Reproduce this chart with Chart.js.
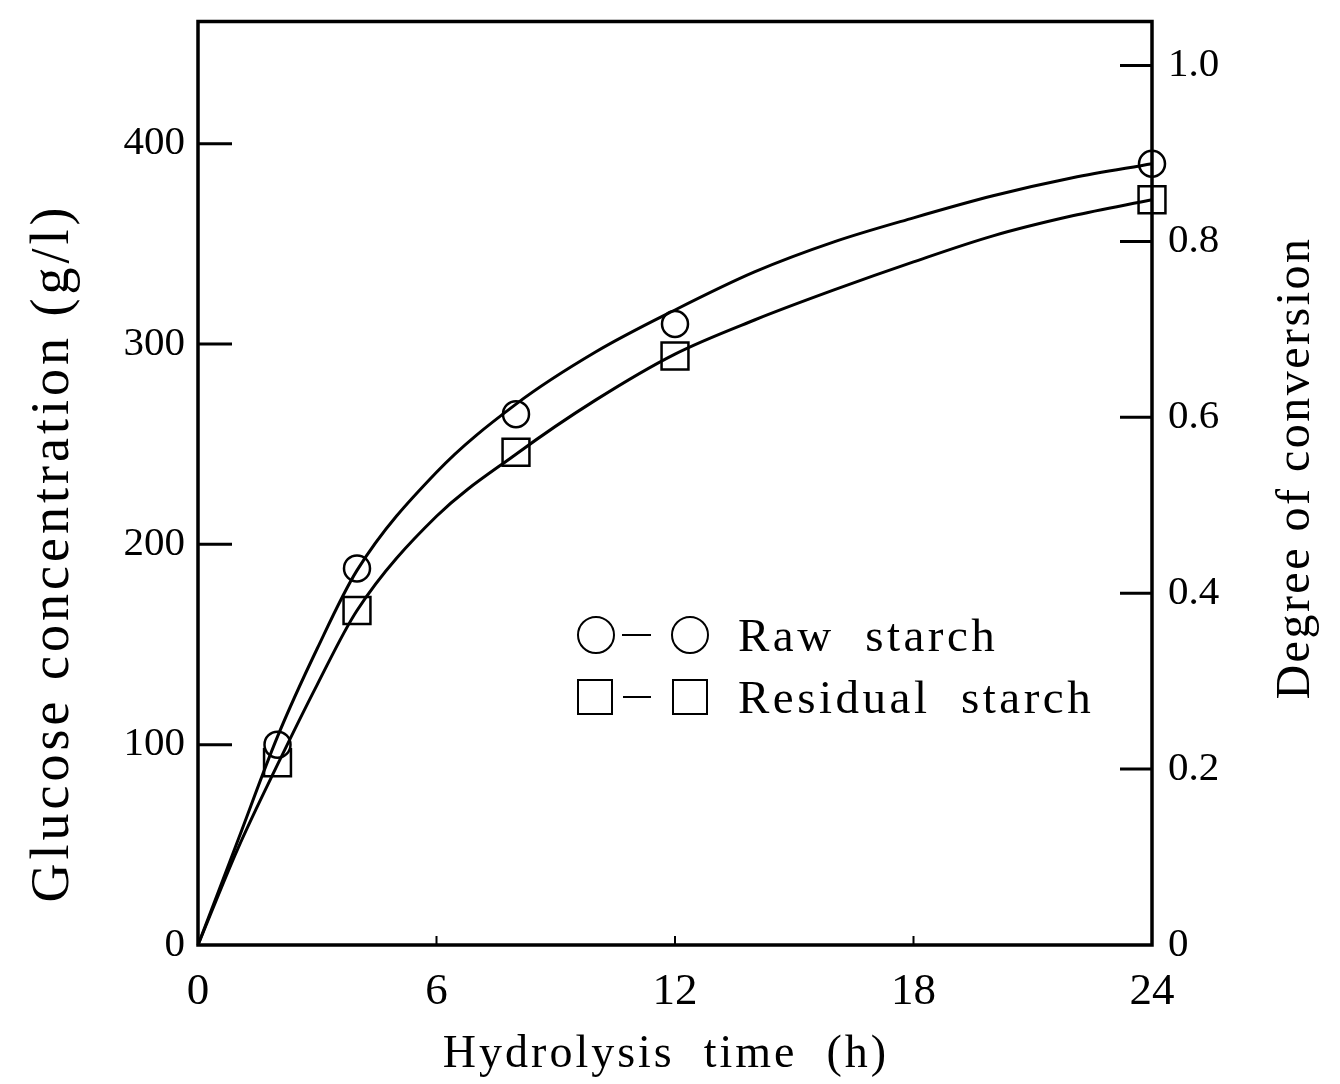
<!DOCTYPE html>
<html>
<head>
<meta charset="utf-8">
<script src="https://cdn.jsdelivr.net/npm/chart.js@4"></script>
<style>
  body { margin: 0; background: #fff; }
  #wrap { width: 1340px; height: 1084px; }
</style>
</head>
<body>
<div id="wrap"><canvas id="myChart"></canvas></div>
<script>
// measured points
const hours = [2, 4, 8, 12, 24];
const rawStarch = [100, 188, 265, 310, 390];
const residualStarch = [91, 167, 246, 294, 372];

// fitted curves
const curveHours = [0, 1, 2, 3, 4, 6, 8, 10, 12, 14, 16, 18, 20, 22, 24];
const rawCurve = [0, 52, 104, 148, 187, 236, 270, 296, 317, 336, 351, 363, 374, 383, 390];
const residualCurve = [0, 48, 90, 130, 167, 214, 245, 272, 295, 312, 327, 341, 354, 364, 372];

const xTicks = [0, 6, 12, 18, 24];
const glucoseTicks = [0, 100, 200, 300, 400];
const conversionTicks = [0, 0.2, 0.4, 0.6, 0.8, 1.0];

const SERIF = '"Liberation Serif", "DejaVu Serif", serif';

function toPoints(xs, ys) {
  return xs.map((x, i) => ({ x: x, y: ys[i] }));
}

function noPadding(s) {
  s.paddingTop = 0;
  s.paddingBottom = 0;
  s.paddingLeft = 0;
  s.paddingRight = 0;
}

// frame, inward ticks, titles and legend
const decorations = {
  id: 'decorations',
  afterDraw(chart) {
    const ctx = chart.ctx;
    const a = chart.chartArea;
    const sx = chart.scales.x;
    const sy = chart.scales.y;
    const sy1 = chart.scales.y1;
    ctx.save();
    ctx.strokeStyle = '#000';
    ctx.lineWidth = 3.5;
    ctx.strokeRect(a.left, a.top, a.right - a.left, a.bottom - a.top);

    ctx.lineWidth = 3;
    ctx.beginPath();
    glucoseTicks.slice(1).forEach((v) => {
      const y = sy.getPixelForValue(v);
      ctx.moveTo(a.left, y);
      ctx.lineTo(a.left + 34, y);
    });
    conversionTicks.slice(1).forEach((v) => {
      const y = sy1.getPixelForValue(v);
      ctx.moveTo(a.right, y);
      ctx.lineTo(a.right - 32, y);
    });
    ctx.stroke();
    ctx.lineWidth = 2;
    ctx.beginPath();
    xTicks.slice(1, -1).forEach((v) => {
      const x = sx.getPixelForValue(v);
      ctx.moveTo(x, a.bottom);
      ctx.lineTo(x, a.bottom - 9);
    });
    ctx.stroke();

    // axis titles
    ctx.fillStyle = '#000';
    ctx.textAlign = 'center';
    ctx.textBaseline = 'alphabetic';
    ctx.font = '46px ' + SERIF;
    ctx.letterSpacing = '3px';
    ctx.fillText('Hydrolysis  time  (h)', 666, 1067);

    ctx.save();
    ctx.translate(54, 553);
    ctx.rotate(-Math.PI / 2);
    ctx.textBaseline = 'middle';
    ctx.font = '54px ' + SERIF;
    ctx.letterSpacing = '4px';
    ctx.fillText('Glucose concentration (g/l)', 0, 0);
    ctx.restore();

    ctx.save();
    ctx.translate(1296, 468);
    ctx.rotate(-Math.PI / 2);
    ctx.textBaseline = 'middle';
    ctx.font = '48px ' + SERIF;
    ctx.letterSpacing = '2.5px';
    ctx.fillText('Degree of conversion', 0, 0);
    ctx.restore();

    // legend
    ctx.lineWidth = 2;
    ctx.strokeStyle = '#000';
    ctx.beginPath();
    ctx.arc(596, 635, 18, 0, Math.PI * 2);
    ctx.stroke();
    ctx.beginPath();
    ctx.arc(690, 635, 18, 0, Math.PI * 2);
    ctx.stroke();
    ctx.strokeRect(578, 680, 34, 34);
    ctx.strokeRect(673, 680, 34, 34);
    ctx.beginPath();
    ctx.moveTo(622, 635);
    ctx.lineTo(651, 635);
    ctx.moveTo(623, 697);
    ctx.lineTo(651, 697);
    ctx.stroke();

    ctx.fillStyle = '#000';
    ctx.textAlign = 'left';
    ctx.textBaseline = 'alphabetic';
    ctx.font = '47px ' + SERIF;
    ctx.letterSpacing = '3.5px';
    ctx.fillText('Raw  starch', 738, 651);
    ctx.fillText('Residual  starch', 738, 713);
    ctx.restore();
  },
};

const tickFontLeft = { family: SERIF, size: 41 };
const tickFontX = { family: SERIF, size: 45 };

const config = {
  type: 'scatter',
  data: {
    datasets: [
      {
        label: 'Raw starch curve',
        data: toPoints(curveHours, rawCurve),
        showLine: true,
        borderColor: '#000',
        borderWidth: 3,
        pointRadius: 0,
        cubicInterpolationMode: 'monotone',
        clip: false,
      },
      {
        label: 'Residual starch curve',
        data: toPoints(curveHours, residualCurve),
        showLine: true,
        borderColor: '#000',
        borderWidth: 3,
        pointRadius: 0,
        cubicInterpolationMode: 'monotone',
        clip: false,
      },
      {
        label: 'Raw starch',
        data: toPoints(hours, rawStarch),
        pointStyle: 'circle',
        pointRadius: 13,
        pointBorderWidth: 2.5,
        pointBackgroundColor: '#fff',
        pointBorderColor: '#000',
        clip: false,
      },
      {
        label: 'Residual starch',
        data: toPoints(hours, residualStarch),
        pointStyle: 'rect',
        pointRadius: 19,
        pointBorderWidth: 2.5,
        pointBackgroundColor: '#fff',
        pointBorderColor: '#000',
        clip: false,
      },
    ],
  },
  options: {
    responsive: true,
    maintainAspectRatio: false,
    animation: false,
    layout: { padding: { top: 18, left: 0, right: 0, bottom: 0 } },
    plugins: { legend: { display: false }, tooltip: { enabled: false } },
    scales: {
      x: {
        type: 'linear',
        min: 0,
        max: 24,
        afterBuildTicks: (s) => { s.ticks = xTicks.map((v) => ({ value: v })); },
        afterFit: (s) => { s.height = 139; noPadding(s); },
        grid: { display: false },
        border: { display: false },
        ticks: { color: '#000', font: tickFontX, padding: 12, maxRotation: 0 },
      },
      y: {
        position: 'left',
        min: 0,
        max: 461,
        afterBuildTicks: (s) => { s.ticks = glucoseTicks.map((v) => ({ value: v })); },
        afterFit: (s) => { s.width = 198; noPadding(s); },
        grid: { display: false },
        border: { display: false },
        ticks: { color: '#000', font: tickFontLeft, padding: 5 },
      },
      y1: {
        position: 'right',
        min: 0,
        max: 1.05,
        afterBuildTicks: (s) => { s.ticks = conversionTicks.map((v) => ({ value: v })); },
        afterFit: (s) => { s.width = 188; noPadding(s); },
        grid: { display: false },
        border: { display: false },
        ticks: {
          color: '#000',
          font: tickFontLeft,
          padding: 8,
          callback: (v) => (v === 0 ? '0' : v.toFixed(1)),
        },
      },
    },
  },
  plugins: [decorations],
};

const myChart = new Chart(document.querySelector('#myChart'), config);
</script>
</body>
</html>
